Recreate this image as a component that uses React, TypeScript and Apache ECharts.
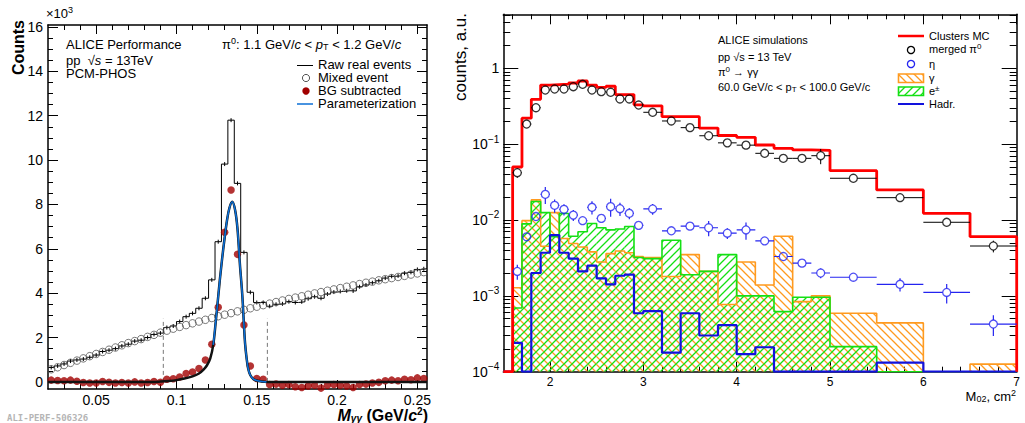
import React, { useEffect, useRef } from "react";
import * as echarts from "echarts";

const FONT = "Liberation Sans, Arial, Helvetica, sans-serif";

// ---------------- LEFT PANEL DATA (counts x10^3) ----------------
const leftBinStart = 0.02;
const leftBinWidth = 0.004;
const rawRealEvents = [
  0.65, 0.72, 0.81, 0.94, 0.99, 1.03, 1.11, 1.21, 1.37, 1.43, 1.5, 1.62, 1.7, 1.84, 1.88, 2.0, 2.14, 2.2,
  2.45, 2.52, 2.72, 2.94, 3.09, 3.32, 3.77, 4.6, 6.32, 9.82, 11.8, 8.95, 5.84, 4.04,
  3.58, 3.58, 3.41, 3.5, 3.52, 3.62, 3.58, 3.61, 3.75, 3.84, 3.77, 3.96, 4.05, 4.08, 4.11, 4.1, 4.29,
  4.37, 4.47, 4.56, 4.68, 4.76, 4.78, 4.9, 4.94, 5.07, 5.1,
];
const mixedEvent = [
  0.57, 0.66, 0.76, 0.86, 0.96, 1.06, 1.16, 1.26, 1.35, 1.45, 1.55, 1.65, 1.75, 1.84, 1.93, 2.03, 2.12, 2.22,
  2.31, 2.4, 2.48, 2.56, 2.64, 2.72, 2.8, 2.88, 2.96, 3.03, 3.1, 3.18, 3.25, 3.32, 3.39, 3.46, 3.53, 3.6,
  3.67, 3.74, 3.8, 3.86, 3.93, 3.99, 4.05, 4.11, 4.17, 4.23, 4.29, 4.35, 4.41, 4.47, 4.52, 4.58, 4.63,
  4.68, 4.73, 4.78, 4.84, 4.89, 4.95,
];
const bgSubtracted = [
  0.08, 0.06, 0.05, 0.08, 0.03, -0.03, -0.05, -0.05, 0.02, -0.02, -0.05, -0.03, -0.05, 0.0, -0.05, -0.03, 0.02, -0.02,
  0.12, 0.14, 0.22, 0.38, 0.45, 0.6, 0.99, 1.7, 3.36, 6.75, 8.65, 5.75, 2.57, 0.72, 0.15, 0.12,
  -0.12, -0.1, -0.15, -0.12, -0.22, -0.25, -0.18, -0.15, -0.28, -0.15, -0.12, -0.15, -0.18, -0.25, -0.12,
  -0.1, -0.05, -0.02, 0.05, 0.08, 0.05, 0.12, 0.1, 0.18, 0.15,
];
const fitCurve: number[][] = [
  [0.02, 0], [0.085, 0], [0.09, 0.015], [0.095, 0.04], [0.1, 0.08], [0.105, 0.15], [0.11, 0.25],
  [0.114, 0.38], [0.1167, 0.54], [0.119, 0.75], [0.121, 1.05], [0.1229, 1.67], [0.1245, 2.75],
  [0.1262, 4.0], [0.127, 4.6], [0.1285, 5.6], [0.13, 6.5], [0.1315, 7.3], [0.133, 7.85], [0.1347, 8.12],
  [0.1365, 7.75], [0.138, 6.9], [0.1395, 5.3], [0.1409, 4.0], [0.142, 2.6], [0.1427, 1.75],
  [0.1437, 1.05], [0.1447, 0.58], [0.146, 0.3], [0.148, 0.12], [0.15, 0.06], [0.153, 0.02], [0.156, 0],
  [0.256, 0],
];
const paramRange = [0.122, 0.157];
const sideBandEdges = [0.0918, 0.1566];
const sideBandTop = 2.85;
const rawErr = 0.09;
const leftXMajor = [0.05, 0.1, 0.15, 0.2, 0.25];
const leftYMajor = [0, 2, 4, 6, 8, 10, 12, 14, 16];

// ---------------- RIGHT PANEL DATA ----------------
const m02Edges = [
  1.5, 1.6, 1.7, 1.8, 1.9, 2.0, 2.1, 2.2, 2.3, 2.4, 2.5, 2.6, 2.7, 2.8, 2.9, 3.0, 3.2, 3.4, 3.6, 3.8, 4.0,
  4.2, 4.4, 4.6, 4.8, 5.0, 5.5, 6.0, 6.5, 7.0,
];
const clustersMC = [
  0, 0.05, 0.22, 0.39, 0.6, 0.61, 0.62, 0.64, 0.68, 0.6, 0.56, 0.58, 0.45, 0.45, 0.33, 0.32, 0.23, 0.23,
  0.163, 0.13, 0.123, 0.0975, 0.088, 0.084, 0.083, 0.0447, 0.0249, 0.01225, 0.00603,
];
const mergedPi0 = [
  null, 0.042, 0.184, 0.302, 0.517, 0.533, 0.533, 0.572, 0.615, 0.517, 0.492, 0.483, 0.394, 0.394, 0.328,
  0.263, 0.202, 0.165, 0.129, 0.104, 0.097, 0.0757, 0.065, 0.065, 0.0704, 0.0355, 0.0197, 0.00933, 0.00454,
];
const mergedPi0Err = [
  null, 0.006, 0.008, 0.01, 0.015, 0.015, 0.015, 0.015, 0.016, 0.015, 0.014, 0.014, 0.012, 0.012, 0.01,
  0.008, 0.006, 0.005, 0.004, 0.004, 0.006, 0.003, 0.003, 0.003, 0.016, 0.0015, 0.0009, 0.0005, 0.0008,
];
const etaPoints = [
  null, 0.0021, 0.006, 0.0111, 0.0218, 0.0156, 0.0138, 0.0116, 0.0098, 0.0147, 0.0105, 0.015, 0.0141,
  0.01225, 0.0085, 0.014, 0.0072, 0.0083, 0.0079, 0.0067, 0.0074, 0.0053, 0.0033, 0.0027, 0.002, 0.00176,
  0.00142, 0.00111, 0.000425,
];
const etaErr = [
  null, 0.00047, 0.0007, 0.0013, 0.0055, 0.0031, 0.0023, 0.0019, 0.0009, 0.0029, 0.001, 0.004, 0.0028,
  0.002, 0.0008, 0.0023, 0.0007, 0.0008, 0.0018, 0.0011, 0.0019, 0.0005, 0.0004, 0.0003, 0.0003, 0.00016,
  0.00028, 0.00032, 0.00013,
];
const gammaHist = [
  0, 0.00128, 0.0098, 0.0184, 0.0045, 0.0125, 0.0057, 0.0049, 0.0044, 0.0038, 0.0028, 0.0036, 0.0039,
  0.0037, 0.0033, 0.0032, 0.0018, 0.0035, 0.0021, 0.00077, 0.0028, 0.00139, 0.0061, 0.00084, 0.001,
  0.00059, 0.00044, 0, 0.000126,
];
const electronHist = [
  0, 0.00069, 0.0089, 0.0175, 0.0125, 0.006, 0.0122, 0.0061, 0.007, 0.009, 0.0079, 0.0074, 0.0076, 0.0082,
  0.0032, 0.0031, 0.0054, 0.0019, 0.0021, 0.0035, 0.001, 0.001, 0.00062, 0.00096, 0.00096, 0.000214, 0, 0, 0,
];
const hadrHist = [
  0, 0.00024, 0, 0.002, 0.0037, 0.0063, 0.0037, 0.0031, 0.0021, 0.0025, 0.0017, 0.00142, 0.00184, 0.0019,
  0.00059, 0.00063, 0.000178, 0.00059, 0.0003, 0.00041, 0.00017, 0.00021, 0, 0, 0, 0, 0.000132, 0, 0,
];
const rightXMajor = [2, 3, 4, 5, 6, 7];
const rightYMajor = [1e-4, 1e-3, 1e-2, 1e-1, 1];

const Y_MIN_R = 1e-4;
const Y_MAX_R = 5.15;
const ORANGE = "#ff9a1f";
const GREEN = "#14e014";
const HBLUE = "#1212dd";
const ETA = "#2424f0";

function makeHatch(color: string, back: boolean) {
  const s = 8;
  const c = document.createElement("canvas");
  c.width = s;
  c.height = s;
  const ctx = c.getContext("2d")!;
  ctx.strokeStyle = color;
  ctx.lineWidth = 1.3;
  ctx.beginPath();
  if (back) {
    ctx.moveTo(0, 0); ctx.lineTo(s, s);
    ctx.moveTo(-2, s - 2); ctx.lineTo(2, s + 2);
    ctx.moveTo(s - 2, -2); ctx.lineTo(s + 2, 2);
  } else {
    ctx.moveTo(0, s); ctx.lineTo(s, 0);
    ctx.moveTo(-2, 2); ctx.lineTo(2, -2);
    ctx.moveTo(s - 2, s + 2); ctx.lineTo(s + 2, s - 2);
  }
  ctx.stroke();
  return { image: c, repeat: "repeat", imageWidth: s, imageHeight: s } as any;
}

function stepPath(edges: number[], vals: number[], floor: number) {
  const pts: number[][] = [[edges[0], floor]];
  vals.forEach((v, k) => {
    const y = Math.max(v, floor);
    pts.push([edges[k], y], [edges[k + 1], y]);
  });
  pts.push([edges[edges.length - 1], floor]);
  return pts;
}

function buildOption() {
  const hatchOrange = makeHatch(ORANGE, true);
  const hatchGreen = makeHatch(GREEN, false);

  const centers = rawRealEvents.map((_, i) => leftBinStart + (i + 0.5) * leftBinWidth);
  const rawPath = rawRealEvents.flatMap((v, i) => [
    [leftBinStart + i * leftBinWidth, v],
    [leftBinStart + (i + 1) * leftBinWidth, v],
  ]);
  const rawErrData = rawRealEvents.map((v, i) => [centers[i], v, rawErr]);
  const mixedData = mixedEvent.map((v, i) => [centers[i], v]);
  const bgData = bgSubtracted.map((v, i) => [centers[i], v]);
  const paramCurve = fitCurve.filter((p) => p[0] >= paramRange[0] && p[0] <= paramRange[1]);

  const rc = (k: number) => (m02Edges[k] + m02Edges[k + 1]) / 2;
  const fillData = (vals: number[]) =>
    vals.map((v, k) => [m02Edges[k], m02Edges[k + 1], v]).filter((d) => d[2] > 0);
  const ptData = (vals: (number | null)[], errs: (number | null)[]) =>
    vals
      .map((v, k) => (v == null ? null : [rc(k), v, m02Edges[k], m02Edges[k + 1], errs[k] as number]))
      .filter((d) => d != null) as number[][];

  const mergedData = ptData(mergedPi0, mergedPi0Err);
  const etaData = ptData(etaPoints, etaErr);

  const lxMinor: number[] = [];
  for (let k = 3; k <= 25; k++) if (k % 5 !== 0) lxMinor.push(k / 100);
  const lyMinor: number[] = [];
  for (let k = 1; k <= 32; k++) if (k % 4 !== 0) lyMinor.push(k / 2);
  const rxMinor: number[] = [];
  for (let k = 8; k <= 34; k++) if (k % 5 !== 0) rxMinor.push(k / 5);
  const ryMinor: number[] = [];
  for (let e = -4; e <= 0; e++) for (let m = 2; m <= 9; m++) {
    const v = m * Math.pow(10, e);
    if (v <= Y_MAX_R) ryMinor.push(v);
  }

  const lineStyle = { color: "#000", width: 1.5 };
  const tickStyle = { color: "#000", width: 1 };
  const hidden = { show: false };

  const xAx = (grid: number, min: number, max: number, pos: string, ticks: number[], len: number, labels?: any, line = true) => ({
    type: "value", gridIndex: grid, min, max, position: pos,
    axisLine: { show: line, onZero: false, lineStyle },
    axisTick: { show: true, inside: true, length: len, customValues: ticks, lineStyle: tickStyle },
    axisLabel: labels ?? hidden,
    splitLine: hidden,
  });
  const yAx = (grid: number, type: string, min: number, max: number, pos: string, ticks: number[], len: number, labels?: any, line = true) => ({
    type, gridIndex: grid, min, max, position: pos, ...(type === "log" ? { logBase: 10 } : {}),
    axisLine: { show: line, onZero: false, lineStyle },
    axisTick: { show: true, inside: true, length: len, customValues: ticks, lineStyle: tickStyle },
    axisLabel: labels ?? hidden,
    splitLine: hidden,
  });

  const xAxis = [
    xAx(0, 0.02, 0.256, "bottom", leftXMajor, 9, {
      show: true, customValues: leftXMajor, margin: 5, color: "#000", fontSize: 14, lineHeight: 12, fontFamily: FONT,
      formatter: (v: number) => String(v),
    }),
    xAx(0, 0.02, 0.256, "bottom", lxMinor, 5, undefined, false),
    xAx(0, 0.02, 0.256, "top", leftXMajor, 9),
    xAx(0, 0.02, 0.256, "top", lxMinor, 5, undefined, false),
    xAx(1, 1.5, 7, "bottom", rightXMajor, 10, {
      show: true, customValues: rightXMajor, margin: 5, color: "#000", fontSize: 12, lineHeight: 11, fontFamily: FONT,
      formatter: (v: number) => String(v),
    }),
    xAx(1, 1.5, 7, "bottom", rxMinor, 5, undefined, false),
    xAx(1, 1.5, 7, "top", rightXMajor, 10),
    xAx(1, 1.5, 7, "top", rxMinor, 5, undefined, false),
  ];
  const yAxis = [
    yAx(0, "value", -0.32, 16.09, "left", leftYMajor, 10, {
      show: true, customValues: leftYMajor, margin: 5, color: "#000", fontSize: 14, fontFamily: FONT,
      formatter: (v: number) => String(v),
    }),
    yAx(0, "value", -0.32, 16.09, "left", lyMinor, 5, undefined, false),
    yAx(0, "value", -0.32, 16.09, "right", leftYMajor, 10),
    yAx(0, "value", -0.32, 16.09, "right", lyMinor, 5, undefined, false),
    yAx(1, "log", Y_MIN_R, Y_MAX_R, "left", rightYMajor, 15, {
      show: true, customValues: rightYMajor, margin: 4, color: "#000", fontSize: 14, fontFamily: FONT,
      formatter: (v: number) => {
        const e = Math.round(Math.log10(v));
        return e === 0 ? "1" : `10{s|${e < 0 ? "\u2212" : ""}${Math.abs(e)}}`;
      },
      rich: { s: { fontSize: 10, fontFamily: FONT, color: "#000", padding: [0, 0, 10, 0] } },
    }),
    yAx(1, "log", Y_MIN_R, Y_MAX_R, "left", ryMinor, 7, undefined, false),
    yAx(1, "log", Y_MIN_R, Y_MAX_R, "right", rightYMajor, 15),
    yAx(1, "log", Y_MIN_R, Y_MAX_R, "right", ryMinor, 7, undefined, false),
  ];

  const L = { xAxisIndex: 0, yAxisIndex: 0 };
  const R = { xAxisIndex: 4, yAxisIndex: 4 };

  const errRender = (r: number, color: string, lw: number, floor: number | null) => (_p: any, api: any) => {
    const x = api.value(0), v = api.value(1), lo = api.value(2), hi = api.value(3), e = api.value(4);
    const c = api.coord([x, v]);
    const pl = api.coord([lo, v]);
    const ph = api.coord([hi, v]);
    const pu = api.coord([x, v + e]);
    const pd = api.coord([x, floor == null ? v - e : Math.max(v - e, floor)]);
    const st = { stroke: color, lineWidth: lw };
    const ch: any[] = [];
    if (c[0] - r > pl[0]) ch.push({ type: "line", shape: { x1: pl[0], y1: c[1], x2: c[0] - r, y2: c[1] }, style: st });
    if (c[0] + r < ph[0]) ch.push({ type: "line", shape: { x1: c[0] + r, y1: c[1], x2: ph[0], y2: c[1] }, style: st });
    if (pu[1] < c[1] - r) ch.push({ type: "line", shape: { x1: c[0], y1: pu[1], x2: c[0], y2: c[1] - r }, style: st });
    if (pd[1] > c[1] + r) ch.push({ type: "line", shape: { x1: c[0], y1: c[1] + r, x2: c[0], y2: pd[1] }, style: st });
    return { type: "group", children: ch };
  };
  const fillRender = (pattern: any) => (_p: any, api: any) => {
    const a = api.coord([api.value(0), api.value(2)]);
    const b = api.coord([api.value(1), Y_MIN_R]);
    return { type: "rect", shape: { x: a[0], y: a[1], width: b[0] - a[0], height: b[1] - a[1] }, style: { fill: pattern } };
  };

  const series: any[] = [
    { type: "line", ...L, data: rawPath, symbol: "none", lineStyle: { color: "#000", width: 1 }, z: 3 },
    {
      type: "custom", ...L, clip: true, z: 3, encode: { x: 0, y: 1 }, data: rawErrData,
      renderItem: (_p: any, api: any) => {
        const a = api.coord([api.value(0), api.value(1) + api.value(2)]);
        const b = api.coord([api.value(0), api.value(1) - api.value(2)]);
        return { type: "line", shape: { x1: a[0], y1: a[1], x2: b[0], y2: b[1] }, style: { stroke: "#000", lineWidth: 1 } };
      },
    },
    {
      type: "scatter", ...L, data: mixedData, symbol: "circle", symbolSize: 7.5, z: 4,
      itemStyle: { color: "rgba(0,0,0,0)", borderColor: "#555", borderWidth: 1 },
    },
    {
      type: "scatter", ...L, data: bgData, symbol: "circle", symbolSize: 7.5, z: 4,
      itemStyle: { color: "#a10000" },
    },
    {
      type: "line", ...L, data: fitCurve, symbol: "none", smooth: 0.35, z: 5,
      lineStyle: { color: "#111", width: 2.5 },
    },
    {
      type: "line", ...L, data: paramCurve, symbol: "none", smooth: 0.35, z: 6,
      lineStyle: { color: "#0b6fd6", width: 1.6 },
    },
    ...sideBandEdges.map((x) => ({
      type: "line", ...L, data: [[x, 0], [x, sideBandTop]], symbol: "none", z: 2,
      lineStyle: { color: "#777", width: 1, type: [4, 3] },
    })),
    { type: "custom", ...R, clip: true, z: 2, encode: { x: [0, 1], y: 2 }, data: fillData(gammaHist), renderItem: fillRender(hatchOrange) },
    { type: "custom", ...R, clip: true, z: 2, encode: { x: [0, 1], y: 2 }, data: fillData(electronHist), renderItem: fillRender(hatchGreen) },
    { type: "line", ...R, data: stepPath(m02Edges, gammaHist, Y_MIN_R), symbol: "none", z: 3, lineStyle: { color: ORANGE, width: 1.6 } },
    { type: "line", ...R, data: stepPath(m02Edges, electronHist, Y_MIN_R), symbol: "none", z: 3, lineStyle: { color: GREEN, width: 1.6 } },
    { type: "line", ...R, data: stepPath(m02Edges, hadrHist, Y_MIN_R), symbol: "none", z: 4, lineStyle: { color: HBLUE, width: 2.2 } },
    { type: "line", ...R, data: stepPath(m02Edges, clustersMC, Y_MIN_R), symbol: "none", z: 4, lineStyle: { color: "#ff0000", width: 2.8 } },
    { type: "custom", ...R, clip: true, z: 5, encode: { x: 0, y: 1 }, data: mergedData, renderItem: errRender(4, "#000", 1, Y_MIN_R) },
    {
      type: "scatter", ...R, data: mergedData.map((d) => [d[0], d[1]]), symbol: "circle", symbolSize: 8, z: 6,
      itemStyle: { color: "rgba(0,0,0,0)", borderColor: "#000", borderWidth: 1.3 },
    },
    { type: "custom", ...R, clip: true, z: 5, encode: { x: 0, y: 1 }, data: etaData, renderItem: errRender(4, ETA, 1.2, Y_MIN_R) },
    {
      type: "scatter", ...R, data: etaData.map((d) => [d[0], d[1]]), symbol: "circle", symbolSize: 8, z: 6,
      itemStyle: { color: "rgba(0,0,0,0)", borderColor: ETA, borderWidth: 1.3 },
    },
  ];

  const T = (x: number, y: number, text: string, o: any = {}) => ({
    type: "text", x, y, z: 100, rotation: o.rot ?? 0,
    style: {
      text, fontFamily: o.family ?? FONT, fontSize: o.size ?? 13, lineHeight: o.lh ?? (o.size ?? 13),
      fontWeight: o.weight ?? "normal", fontStyle: o.style ?? "normal",
      fill: o.fill ?? "#000", align: o.align ?? "left", verticalAlign: "middle", rich: o.rich,
    },
  });
  const rich = (size: number, sub: number) => ({
    i: { fontSize: size, lineHeight: size, fontStyle: "italic", fontFamily: FONT },
    s: { fontSize: sub, lineHeight: sub, fontFamily: FONT, padding: [0, 0, Math.round(size * 0.55), 0] },
    d: { fontSize: sub, lineHeight: sub, fontFamily: FONT, padding: [Math.round(size * 0.45), 0, 0, 0] },
  });
  const r13 = rich(13, 9);
  const r11 = rich(11, 8);

  const graphic: any[] = [
    T(46, 13, "\u00d710{s|3}", { size: 13, rich: r13 }),
    T(18, 20, "Counts", { size: 16, weight: "bold", rot: Math.PI / 2, align: "right" }),
    T(66, 44, "ALICE Performance"),
    T(66, 60, "pp  \u221a{i|s} = 13TeV", { rich: r13 }),
    T(66, 73, "PCM-PHOS"),
    T(222, 44, "\u03c0{s|0}: 1.1 GeV/{i|c} < {i|p}{d|T} < 1.2 GeV/{i|c}", { rich: r13 }),
    { type: "line", z: 100, shape: { x1: 297, y1: 65.5, x2: 313, y2: 65.5 }, style: { stroke: "#000", lineWidth: 1 } },
    { type: "circle", z: 100, shape: { cx: 306, cy: 78, r: 3.6 }, style: { fill: "none", stroke: "#555", lineWidth: 1 } },
    { type: "circle", z: 100, shape: { cx: 306, cy: 91, r: 3.7 }, style: { fill: "#a10000" } },
    { type: "line", z: 100, shape: { x1: 297, y1: 104, x2: 313, y2: 104 }, style: { stroke: "#0b6fd6", lineWidth: 1.5 } },
    T(318, 64.5, "Raw real events", { lh: 12 }),
    T(318, 77.5, "Mixed event", { lh: 12 }),
    T(318, 90.5, "BG subtracted", { lh: 12 }),
    T(318, 103.5, "Parameterization", { lh: 12 }),
    T(428, 415, "{bi|M}{bs|\u03b3\u03b3}{b| (GeV/}{bi|c}{bu|2}{b|)}", {
      align: "right", lh: 16,
      rich: {
        bi: { fontSize: 16, lineHeight: 16, fontWeight: "bold", fontStyle: "italic", fontFamily: FONT },
        bs: { fontSize: 10, lineHeight: 10, fontWeight: "bold", fontStyle: "italic", fontFamily: FONT, padding: [6, 0, 0, 0] },
        b: { fontSize: 16, lineHeight: 16, fontWeight: "bold", fontFamily: FONT },
        bu: { fontSize: 10, lineHeight: 10, fontWeight: "bold", fontFamily: FONT, padding: [0, 0, 7, 0] },
      },
    }),
    T(7, 418, "ALI-PERF-506326", { size: 9, weight: "bold", fill: "#b5b5b5", family: "DejaVu Sans Mono, monospace" }),
    T(460, 13, "counts, a.u.", { size: 17, rot: Math.PI / 2, align: "right" }),
    T(1016, 396, "M{d|02}, cm{s|2}", { align: "right", rich: r13 }),
    T(718, 40, "ALICE simulations", { size: 11 }),
    T(718, 57, "pp \u221as = 13 TeV", { size: 11 }),
    T(718, 72, "\u03c0{s|0} \u2192 \u03b3\u03b3", { size: 11, rich: r11 }),
    T(718, 87, "60.0 GeV/c < p{d|T} < 100.0 GeV/c", { size: 11, rich: r11 }),
    { type: "line", z: 100, shape: { x1: 898, y1: 36, x2: 924, y2: 36 }, style: { stroke: "#ff0000", lineWidth: 2.5 } },
    { type: "circle", z: 100, shape: { cx: 911, cy: 50, r: 3.6 }, style: { fill: "none", stroke: "#000", lineWidth: 1.3 } },
    { type: "circle", z: 100, shape: { cx: 911, cy: 64, r: 3.6 }, style: { fill: "none", stroke: ETA, lineWidth: 1.3 } },
    { type: "rect", z: 100, shape: { x: 898.5, y: 74, width: 25, height: 8.5 }, style: { fill: hatchOrange, stroke: ORANGE, lineWidth: 1.6 } },
    { type: "rect", z: 100, shape: { x: 898.5, y: 87, width: 25, height: 8.5 }, style: { fill: hatchGreen, stroke: GREEN, lineWidth: 1.6 } },
    { type: "line", z: 100, shape: { x1: 898, y1: 104, x2: 924, y2: 104 }, style: { stroke: HBLUE, lineWidth: 2 } },
    T(929, 36, "Clusters MC", { size: 11 }),
    T(929, 49, "merged \u03c0{s|0}", { size: 11, rich: r11 }),
    T(929, 64, "\u03b7", { size: 11 }),
    T(929, 78, "\u03b3", { size: 11 }),
    T(929, 91, "e{s|\u00b1}", { size: 11, rich: r11 }),
    T(929, 104, "Hadr.", { size: 11 }),
  ];

  return {
    animation: false,
    backgroundColor: "#fff",
    grid: [
      { left: 48, top: 25, width: 379, height: 364, outerBoundsMode: "none", containLabel: false },
      { left: 503.3, top: 14.3, width: 513.4, height: 357.4, outerBoundsMode: "none", containLabel: false },
    ],
    xAxis,
    yAxis,
    series,
    graphic,
  };
}

export default function App() {
  const ref = useRef<HTMLDivElement>(null);
  useEffect(() => {
    document.body.style.margin = "0";
    const chart = echarts.init(ref.current!, null, { renderer: "svg" });
    chart.setOption(buildOption() as any);
    return () => chart.dispose();
  }, []);
  return <div ref={ref} style={{ width: 1025, height: 423 }} />;
}
